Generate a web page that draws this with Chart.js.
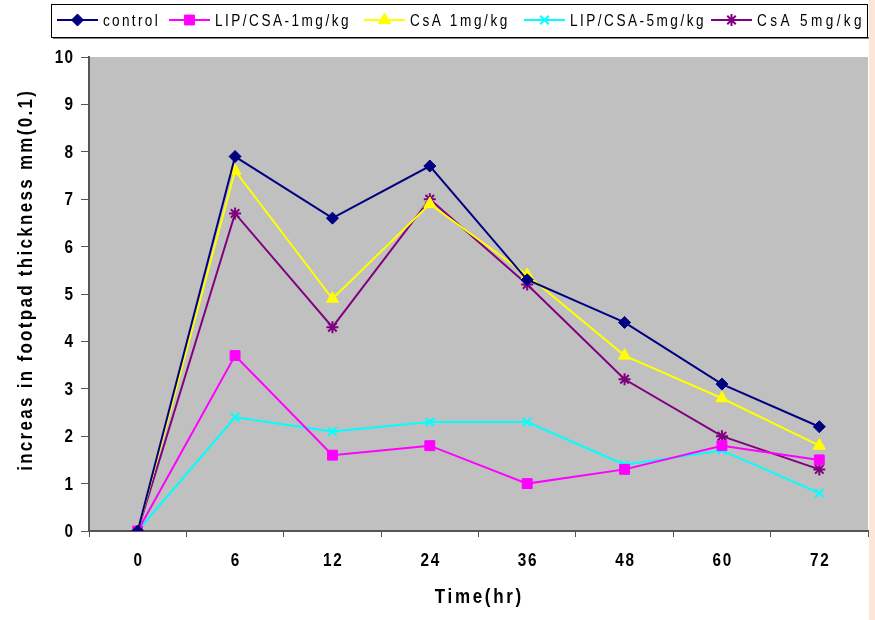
<!DOCTYPE html>
<html>
<head>
<meta charset="utf-8">
<script src="https://cdn.jsdelivr.net/npm/chart.js@4"></script>
<style>
  body { margin: 0; background: #fde5d9; }
  #wrap { width: 869px; height: 620px; background: #fff; }
</style>
</head>
<body>
<div id="wrap"><canvas id="footpadChart" width="869" height="620"></canvas></div>
<script>
const hours = ['0', '6', '12', '24', '36', '48', '60', '72'];
const control = [0, 7.9, 6.6, 7.7, 5.3, 4.4, 3.1, 2.2];
const lipCsa1 = [0, 3.7, 1.6, 1.8, 1.0, 1.3, 1.8, 1.5];
const csa1 = [0, 7.6, 4.9, 6.9, 5.4, 3.7, 2.8, 1.8];
const lipCsa5 = [0, 2.4, 2.1, 2.3, 2.3, 1.4, 1.7, 0.8];
const csa5 = [0, 6.7, 4.3, 7.0, 5.2, 3.2, 2.0, 1.3];
const seriesNames = ['control', 'LIP/CSA-1mg/kg', 'CsA 1mg/kg', 'LIP/CSA-5mg/kg', 'CsA 5mg/kg'];
const xTitle = 'Time(hr)';
const yTitle = 'increas in footpad thickness mm(0.1)';

const fam = "'Liberation Sans', Arial, sans-serif";

function makeSet(label, data, color, style, radius, order) {
  const hollow = style === 'crossRot' || style === 'star';
  return {
    label, data,
    borderColor: color,
    backgroundColor: color,
    borderWidth: 2,
    pointStyle: style,
    pointRadius: radius,
    pointHoverRadius: radius,
    pointBackgroundColor: hollow ? 'transparent' : color,
    pointBorderColor: color,
    pointBorderWidth: hollow ? 2 : 1,
    tension: 0,
    order
  };
}

// narrow-looking text: squeeze horizontally, optionally stretch to a width
function narrowText(ctx, text, x, y, font, opts) {
  const o = Object.assign({sx: 0.82, spacing: 0, width: 0, align: 'center', rot: 0}, opts);
  ctx.save();
  ctx.font = font;
  ctx.letterSpacing = '0px';
  let sx = o.sx, sp = o.spacing;
  if (o.width) {
    const w0 = ctx.measureText(text).width;
    sp = (o.width / sx - w0) / text.length;
  }
  ctx.letterSpacing = sp + 'px';
  const w = ctx.measureText(text).width - sp;
  ctx.translate(x, y);
  ctx.rotate(o.rot);
  ctx.scale(sx, 1);
  ctx.textBaseline = 'middle';
  ctx.textAlign = 'left';
  let start = -w / 2;
  if (o.align === 'right') start = -w;
  if (o.align === 'left') start = 0;
  ctx.fillText(text, start, 0);
  ctx.restore();
}

// grey plot area
const plotBg = {
  id: 'plotBg',
  beforeDraw(chart) {
    const a = chart.chartArea, ctx = chart.ctx;
    ctx.save();
    ctx.fillStyle = '#c0c0c0';
    ctx.fillRect(a.left, a.top, a.right - a.left, a.bottom - a.top);
    ctx.restore();
  }
};

// tick labels and axis titles in a condensed face
const axisText = {
  id: 'axisText',
  afterDraw(chart) {
    const ctx = chart.ctx, xs = chart.scales.x, ys = chart.scales.y;
    ctx.save();
    ctx.fillStyle = '#000';
    ys.ticks.forEach(t => {
      narrowText(ctx, String(t.value), 73, ys.getPixelForValue(t.value) + 1, 'bold 18px ' + fam, {sx: 0.85, spacing: 1.5, align: 'right'});
    });
    hours.forEach((h, i) => {
      narrowText(ctx, h, xs.getPixelForValue(i), 561, 'bold 18px ' + fam, {sx: 0.85, spacing: 2});
    });
    narrowText(ctx, xTitle, 478, 597, 'bold 20px ' + fam, {sx: 0.85, width: 89});
    narrowText(ctx, yTitle, 26, 281, 'bold 20px ' + fam, {sx: 0.85, width: 382, rot: -Math.PI / 2});
    ctx.restore();
  }
};

// boxed legend across the top, line + marker per series
const boxLegend = {
  id: 'boxLegend',
  afterDraw(chart) {
    const ctx = chart.ctx;
    ctx.save();
    ctx.fillStyle = '#808080';
    ctx.fillRect(53, 37, 816, 2);
    ctx.fillStyle = '#fff';
    ctx.fillRect(51, 4, 816, 33);
    ctx.strokeStyle = '#000';
    ctx.lineWidth = 1;
    ctx.strokeRect(51.5, 4.5, 816, 33);

    const starts = [57, 169, 364, 524, 711];
    const textW = [57, 136, 100, 136, 108];
    const y = 20;
    chart.data.datasets.forEach((ds, i) => {
      const x0 = starts[i];
      ctx.strokeStyle = ds.borderColor;
      ctx.lineWidth = 2;
      ctx.beginPath();
      ctx.moveTo(x0, y);
      ctx.lineTo(x0 + 41, y);
      ctx.stroke();
      ctx.fillStyle = ds.pointBackgroundColor;
      ctx.strokeStyle = ds.pointBorderColor;
      ctx.lineWidth = ds.pointBorderWidth;
      Chart.helpers.drawPoint(ctx, {pointStyle: ds.pointStyle, radius: ds.pointRadius, rotation: 0, borderWidth: ds.pointBorderWidth}, x0 + 20.5, y);
      ctx.fillStyle = '#000';
      narrowText(ctx, ds.label, x0 + 46, y + 1, '17px ' + fam, {sx: 0.8, width: textW[i], align: 'left'});
    });
    ctx.restore();
  }
};

new Chart(document.getElementById('footpadChart'), {
  type: 'line',
  data: {
    labels: hours,
    datasets: [
      makeSet(seriesNames[0], control, '#000080', 'rectRot', 6, 1),
      makeSet(seriesNames[1], lipCsa1, '#ff00ff', 'rect', 7, 2),
      makeSet(seriesNames[2], csa1, '#ffff00', 'triangle', 7, 3),
      makeSet(seriesNames[3], lipCsa5, '#00ffff', 'crossRot', 6, 4),
      makeSet(seriesNames[4], csa5, '#800080', 'star', 6, 5)
    ]
  },
  options: {
    responsive: false,
    animation: false,
    devicePixelRatio: 1,
    layout: { autoPadding: false, padding: { top: 57, right: 1, left: 0, bottom: 0 } },
    plugins: { legend: { display: false }, tooltip: { enabled: false } },
    scales: {
      x: {
        offset: true,
        grid: { offset: true, drawOnChartArea: false, tickLength: 6, color: '#555', lineWidth: 1 },
        border: { color: '#555', width: 2 },
        ticks: { display: false },
        afterFit(scale) { scale.height = 89; scale.paddingLeft = 0; scale.paddingRight = 0; }
      },
      y: {
        min: 0, max: 10,
        ticks: { stepSize: 1, display: false },
        grid: { drawOnChartArea: false, tickLength: 8, color: '#555', lineWidth: 1 },
        border: { color: '#555', width: 2 },
        afterFit(scale) { scale.width = 89; scale.paddingTop = 0; scale.paddingBottom = 0; }
      }
    }
  },
  plugins: [plotBg, axisText, boxLegend]
});
</script>
</body>
</html>
